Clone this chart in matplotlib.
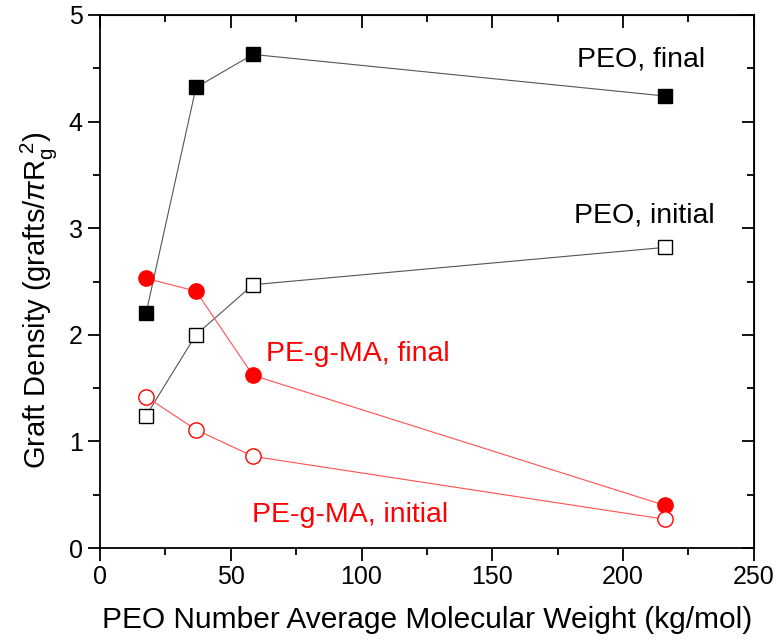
# graft density vs PEO molecular weight
import matplotlib
matplotlib.use('Agg')
import matplotlib.pyplot as plt
from matplotlib.ticker import MultipleLocator

plt.rcParams['font.family'] = ['Liberation Sans', 'DejaVu Sans']
plt.rcParams['mathtext.fontset'] = 'custom'
plt.rcParams['mathtext.rm'] = 'Liberation Sans'
plt.rcParams['mathtext.it'] = 'Liberation Sans:italic'

# data
mw = [17.6, 36.7, 58.5, 216]
peo_final = [2.20, 4.32, 4.63, 4.24]
peo_initial = [1.24, 2.00, 2.47, 2.82]
pegma_final = [2.53, 2.41, 1.62, 0.40]
pegma_initial = [1.42, 1.11, 0.86, 0.27]

fig = plt.figure(figsize=(7.78, 6.43), dpi=100)
ax = fig.add_axes([0.1285, 0.1477, 0.8405, 0.829])

ax.plot(mw, peo_final, color='#555555', lw=0.8, marker='s', ms=10,
        mfc='black', mec='black')
ax.plot(mw, peo_initial, color='#555555', lw=0.8, marker='s', ms=10,
        mfc='white', mec='black', mew=1.0)
ax.plot(mw, pegma_final, color='#ff5050', lw=0.8, marker='o', ms=11,
        mfc='red', mec='red')
ax.plot(mw, pegma_initial, color='#ff5050', lw=0.8, marker='o', ms=11,
        mfc='white', mec='red', mew=1.0)

# labels next to the series
ax.text(207, 4.58, 'PEO, final', fontsize=20.5, ha='center', va='center')
ax.text(208, 3.12, 'PEO, initial', fontsize=20.5, ha='center', va='center')
ax.text(98.6, 1.82, 'PE-g-MA, final', fontsize=20.5, color='red',
        ha='center', va='center')
ax.text(95.6, 0.31, 'PE-g-MA, initial', fontsize=20.5, color='red',
        ha='center', va='center')

ax.set_xlim(0, 250)
ax.set_ylim(0, 5)
ax.xaxis.set_major_locator(MultipleLocator(50))
ax.xaxis.set_minor_locator(MultipleLocator(25))
ax.yaxis.set_major_locator(MultipleLocator(1))
ax.yaxis.set_minor_locator(MultipleLocator(0.5))
ax.tick_params(which='both', direction='out', labelsize=18, width=1.3,
               top=False, right=False)
ax.tick_params(which='major', length=9)
ax.tick_params(which='minor', length=5)
for s in ax.spines.values():
    s.set_linewidth(1.3)

# inward ticks on top and right
sec_x = ax.secondary_xaxis('top')
sec_x.xaxis.set_major_locator(MultipleLocator(50))
sec_x.xaxis.set_minor_locator(MultipleLocator(25))
sec_x.tick_params(which='both', direction='in', labeltop=False, width=1.3)
sec_x.tick_params(which='major', length=9)
sec_x.tick_params(which='minor', length=5)
sec_y = ax.secondary_yaxis('right')
sec_y.yaxis.set_major_locator(MultipleLocator(1))
sec_y.yaxis.set_minor_locator(MultipleLocator(0.5))
sec_y.tick_params(which='both', direction='in', labelright=False, width=1.3)
sec_y.tick_params(which='major', length=9)
sec_y.tick_params(which='minor', length=5)

ax.set_xlabel('PEO Number Average Molecular Weight (kg/mol)', fontsize=21.5,
              labelpad=12)
ax.set_ylabel(r'Graft Density (grafts/$\pi$R$_\mathrm{g}^{\ 2}$)', fontsize=21)
ax.yaxis.set_label_coords(-0.063, 0.465)

plt.savefig('out.png', dpi=100)
